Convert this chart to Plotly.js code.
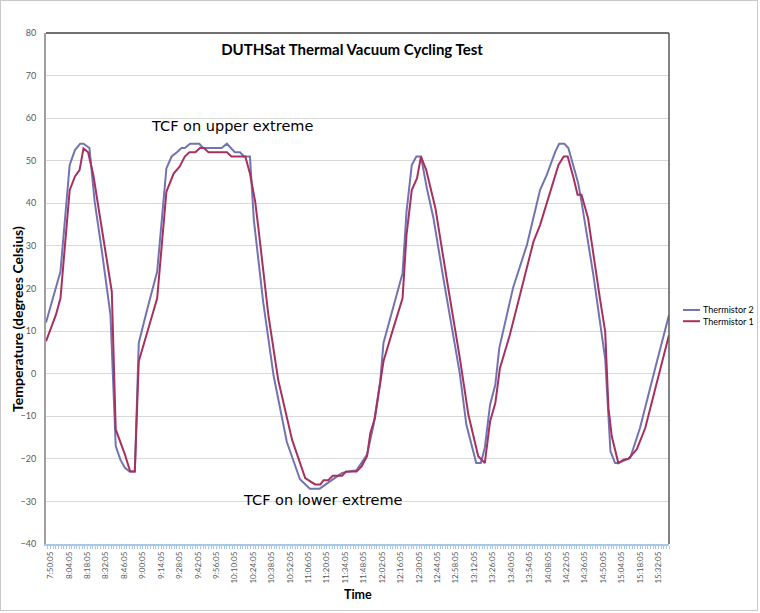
<!DOCTYPE html>
<html>
<head>
<meta charset="utf-8">
<script src="https://cdn.plot.ly/plotly-3.0.1.min.js"></script>
<style>
html,body{margin:0;padding:0;background:#fff;}
#chart{position:absolute;left:0;top:0;width:760px;height:613px;}
#frame{position:absolute;left:0;top:0;width:756px;height:609px;border:1px solid #c9c9c9;pointer-events:none;}
</style>
</head>
<body>
<div id="chart"></div>
<div id="frame"></div>
<script>
// ---- data ----
const tickLabels = ["7:50:05","8:04:05","8:18:05","8:32:05","8:46:05","9:00:05","9:14:05","9:28:05","9:42:05","9:56:05",
  "10:10:05","10:24:05","10:38:05","10:52:05","11:06:05","11:20:05","11:34:05","11:48:05","12:02:05","12:16:05",
  "12:30:05","12:44:05","12:58:05","13:12:05","13:26:05","13:40:05","13:54:05","14:08:05","14:22:05","14:36:05",
  "14:50:05","15:04:05","15:18:05","15:32:05"];

const therm2Times = ["7:46:35","7:57:35","8:04:35","8:08:35","8:12:35","8:15:05","8:19:35","8:23:35","8:29:05","8:35:35",
  "8:39:35","8:43:05","8:46:35","8:50:05","8:54:05","8:57:05","9:03:05","9:11:05","9:18:05","9:22:05",
  "9:26:05","9:29:35","9:32:05","9:36:05","9:43:05","9:46:05","10:00:05","10:04:05","10:10:05","10:14:05",
  "10:17:05","10:21:35","10:24:35","10:31:35","10:39:35","10:49:35","10:59:35","11:07:05","11:14:35","11:22:35",
  "11:31:35","11:42:35","11:47:35","11:50:35","11:55:35","12:00:35","12:03:05","12:10:35","12:17:35","12:20:35",
  "12:24:35","12:28:05","12:31:35","12:36:05","12:41:05","12:48:35","12:56:05","13:01:05","13:06:05","13:13:35",
  "13:17:05","13:20:05","13:24:05","13:28:05","13:31:05","13:34:05","13:41:35","13:52:05","14:02:05","14:07:05",
  "14:13:35","14:16:35","14:20:35","14:23:35","14:27:35","14:31:05","14:33:35","14:42:35","14:51:35","14:55:35",
  "14:59:05","15:01:35","15:10:35","15:18:05","15:29:35","15:40:05"];
const therm2Vals = [12,24,49,52.5,54,54,53,40.4,28.7,13.8,
  -17,-20.2,-22.1,-23,-23,7.2,14.6,24,48.2,51,
  52,53,53,54,54,53,53,54,52,52,
  51,51,36,17,-0.5,-16,-24.8,-27,-27,-25.2,
  -23.3,-22.7,-20.5,-19,-12,-1.8,7.2,15.4,23.6,38,
  49,51,51,43.5,36.5,22.4,9.1,0,-12,-21,
  -21,-17.4,-7.3,-2.6,6,9.9,20.2,30.2,43.1,46.6,
  52.1,54,54,53,48.3,44.7,40.4,23.2,3.5,-18.2,
  -21,-21,-19.8,-12.7,1.3,13.8];

const therm1Times = ["7:46:35","7:54:05","7:57:35","8:04:35","8:08:35","8:12:05","8:15:05","8:18:35","8:22:35","8:27:35",
  "8:32:35","8:36:35","8:39:35","8:46:35","8:50:35","8:54:05","8:57:05","9:03:05","9:11:05","9:18:05",
  "9:23:35","9:28:05","9:32:05","9:35:35","9:40:05","9:43:35","9:46:35","9:50:05","10:04:05","10:07:35",
  "10:18:05","10:21:35","10:25:35","10:28:05","10:35:35","10:43:05","10:53:35","11:03:35","11:11:05","11:15:05",
  "11:17:35","11:21:05","11:24:35","11:31:35","11:34:35","11:42:35","11:46:35","11:50:35","11:53:05","11:56:35",
  "12:00:35","12:03:05","12:10:35","12:17:35","12:20:35","12:24:35","12:28:35","12:31:35","12:35:35","12:42:35",
  "12:51:05","12:58:35","13:01:05","13:07:35","13:15:05","13:20:05","13:24:05","13:28:05","13:31:35","13:39:05",
  "13:48:05","13:57:05","14:02:05","14:08:35","14:16:05","14:20:05","14:23:05","14:27:35","14:30:35","14:33:35",
  "14:38:35","14:47:35","14:51:35","14:54:05","14:56:35","15:01:35","15:05:35","15:09:05","15:15:35","15:22:05",
  "15:32:05","15:40:05"];
const therm1Vals = [7.6,13.8,17.7,43.1,46.3,47.8,52.9,52,46.6,36.5,
  27.1,19.3,-13.1,-19,-23,-23,2.9,9.1,17.7,42.7,
  47,48.6,51,52,52,53,53,52,52,51,
  51,47,40.4,34,13.8,-1.5,-15.5,-24.5,-26,-26,
  -25,-25,-24,-24,-23,-23,-21.7,-19.4,-13.9,-10.4,
  -1.8,2.9,10.7,17.7,32.6,43.1,45.9,51,47.8,38.8,
  22.4,9.1,3.7,-9.6,-19.4,-21,-11.2,-6.9,1.3,9.1,
  20.2,31,34.9,41.2,49,51,51,45.9,42,42,
  36.5,17.7,9.9,-8.1,-14.7,-21,-20.2,-20,-17.8,-12.7,
  -0.2,9.1];

const seriesNames = ["Thermistor 2","Thermistor 1"];
const seriesColors = ["#7274b2","#a8305f"];

// ---- helpers ----
function toMin(s){const p=s.split(":").map(Number);return p[0]*60+p[1]+(p[2]||0)/60;}

const fontFam = "Lato, 'Liberation Sans', sans-serif";
const traces = [
  {x:therm2Times.map(toMin), y:therm2Vals, name:seriesNames[0], type:"scatter", mode:"lines",
   line:{color:seriesColors[0], width:2}},
  {x:therm1Times.map(toMin), y:therm1Vals, name:seriesNames[1], type:"scatter", mode:"lines",
   line:{color:seriesColors[1], width:2}}
];

const xStart = toMin(therm2Times[0]);
const xEnd = toMin(therm2Times[therm2Times.length-1]);

// custom legend geometry (paper coords)
const legendY = [0.458, 0.436];
const shapes = [
  {type:"line", xref:"paper", yref:"paper", x0:0, x1:1, y0:1, y1:1, line:{color:"#404040", width:1.5}},
  {type:"line", xref:"paper", yref:"paper", x0:1, x1:1, y0:0, y1:1, line:{color:"#5a5a5a", width:1.5}}
];
const annotations = [
  {text:"TCF on upper extreme", xref:"paper", yref:"paper", x:0.2986, y:0.818, showarrow:false,
   xanchor:"center", yanchor:"middle", font:{family:"'DejaVu Sans', Verdana, sans-serif", size:14.5, color:"#000"}},
  {text:"TCF on lower extreme", xref:"paper", yref:"paper", x:0.4446, y:0.0861, showarrow:false,
   xanchor:"center", yanchor:"middle", font:{family:"'DejaVu Sans', Verdana, sans-serif", size:14.5, color:"#000"}},
  {text:"<b>Temperature (degrees Celsius)</b>", xref:"paper", yref:"paper", x:-0.047, y:0.44, textangle:-90,
   showarrow:false, xanchor:"center", yanchor:"middle", font:{family:fontFam, size:14, color:"#000"}},
  {text:"<b>Time</b>", xref:"paper", yref:"paper", x:0.5, y:-0.0998, showarrow:false,
   xanchor:"center", yanchor:"middle", font:{family:fontFam, size:12.5, color:"#000"}}
];
seriesNames.forEach((n,i)=>{
  shapes.push({type:"line", xref:"paper", yref:"paper", x0:(683-46)/623, x1:(700-46)/623, y0:legendY[i], y1:legendY[i],
    line:{color:seriesColors[i], width:2}});
  annotations.push({text:n, xref:"paper", yref:"paper", x:(701-46)/623, y:legendY[i], showarrow:false,
    xanchor:"left", yanchor:"middle", font:{family:fontFam, size:9, color:"#000"}});
});

const layout = {
  width:760, height:613,
  margin:{l:46, r:91, t:33, b:69, pad:0},
  paper_bgcolor:"#fff", plot_bgcolor:"#fff",
  showlegend:false,
  title:{text:"<b>DUTHSat Thermal Vacuum Cycling Test</b>", x:352/760, xref:"container", xanchor:"center",
         y:1-50/613, yref:"container", yanchor:"middle", font:{family:fontFam, size:15, color:"#000"}},
  xaxis:{range:[xStart, xEnd], tickmode:"array", tickvals:tickLabels.map(toMin), ticktext:tickLabels,
         tickangle:-90, tickfont:{family:fontFam, size:8, color:"#595959"},
         showgrid:false, zeroline:false, showline:true, linecolor:"#a9c8e8", linewidth:1.5,
         ticks:"outside", ticklen:3, tickcolor:"#a9c8e8",
         minor:{ticks:"outside", ticklen:3, tickcolor:"#a9c8e8", dtick:2, tick0:toMin(tickLabels[0]), showgrid:false}},
  yaxis:{range:[-40,80], dtick:10, tick0:0, tickfont:{family:fontFam, size:9, color:"#595959"},
         showgrid:true, gridcolor:"#d9d9d9", gridwidth:1, zeroline:false,
         showline:true, linecolor:"#a0a0a0", linewidth:2, ticks:"", ticklabelstandoff:6},
  shapes:shapes,
  annotations:annotations
};

Plotly.newPlot("chart", traces, layout, {displayModeBar:false, staticPlot:true});
</script>
</body>
</html>
